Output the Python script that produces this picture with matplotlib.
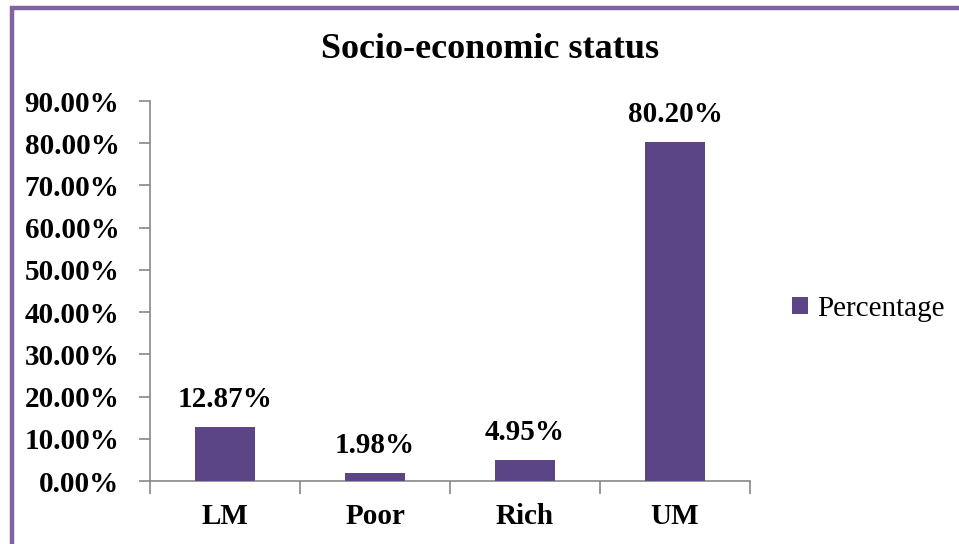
import matplotlib
matplotlib.use("Agg")
import matplotlib.pyplot as plt
from matplotlib.patches import Rectangle

categories = ["LM", "Poor", "Rich", "UM"]
values = [12.87, 1.98, 4.95, 80.20]
yticks = [0, 10, 20, 30, 40, 50, 60, 70, 80, 90]
series_name = "Percentage"
title = "Socio-economic status"

plt.rcParams['font.family'] = ['Liberation Serif', 'DejaVu Serif']

W, H = 959, 544
fig = plt.figure(figsize=(W/100, H/100), dpi=100)
fig.patch.set_facecolor('white')

# outer border
fig.patches.append(Rectangle((11.5/W, -0.1), 1.2, 0.1 + (H-7.5)/H,
                             transform=fig.transFigure, fill=False,
                             edgecolor='#8064A2', linewidth=3.2))

ax = fig.add_axes([150/W, (H-481)/H, 600/W, 380/H])
bar_color = '#5B4586'
x = list(range(len(categories)))
bars = ax.bar(x, values, width=0.4, color=bar_color, label=series_name, zorder=3)
ax.set_xlim(-0.5, len(categories) - 0.5)
ax.set_ylim(0, 90)
ax.set_yticks(yticks)
ax.set_yticklabels([f"{v:.2f}%" for v in yticks], fontsize=21, fontweight='bold')
ax.set_xticks(x)
ax.set_xticklabels(categories, fontsize=21, fontweight='bold')
ax.tick_params(axis='x', length=0, pad=16)
ax.set_xticks([i - 0.5 for i in range(len(categories) + 1)], minor=True)
ax.tick_params(axis='x', which='minor', length=9, color='#888888', width=1.2)
ax.tick_params(axis='y', length=8, color='#888888', width=1.2, pad=14)

for s in ['top', 'right']:
    ax.spines[s].set_visible(False)
for s in ['left', 'bottom']:
    ax.spines[s].set_color('#888888')
    ax.spines[s].set_linewidth(1.2)

for xi, v in zip(x, values):
    ax.annotate(f"{v:.2f}%", (xi, v), xytext=(0, 10), textcoords='offset points',
                ha='center', va='bottom', fontsize=21, fontweight='bold')

fig.text(490/W, 1 - 50/H, title, ha='center', va='center', fontsize=26, fontweight='bold')

leg = fig.legend(handles=[bars], labels=[series_name], loc='center left',
                 bbox_to_anchor=(766/W, 1 - 309/H), frameon=False, fontsize=21,
                 handlelength=0.55, handleheight=0.55, handletextpad=0.3)

fig.savefig("out.png", dpi=100)
